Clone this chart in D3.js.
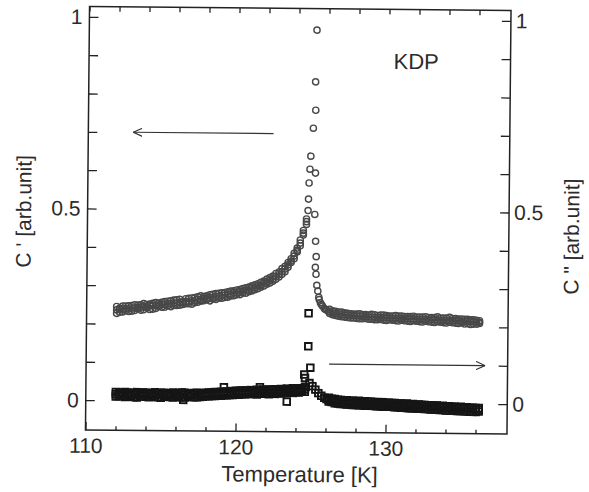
<!DOCTYPE html>
<html>
<head>
<meta charset="utf-8">
<script src="https://cdn.jsdelivr.net/npm/d3@7/dist/d3.min.js"></script>
<style>
  body { margin: 0; background: #fff; }
  svg text { font-family: "Liberation Sans", Arial, Helvetica, sans-serif; fill: #2b2b2b; }
</style>
</head>
<body>
<div id="chartArea"></div>
<script>
// temperature grid below Tc (K)
var tLow = [112.0, 112.2, 112.4, 112.6, 112.8, 113.0, 113.2, 113.4, 113.6, 113.8,
  114.0, 114.2, 114.4, 114.6, 114.8, 115.0, 115.2, 115.4, 115.6, 115.8,
  116.0, 116.2, 116.4, 116.6, 116.8, 117.0, 117.2, 117.4, 117.6, 117.8,
  118.0, 118.2, 118.4, 118.6, 118.8, 119.0, 119.2, 119.4, 119.6, 119.8,
  120.0, 120.2, 120.4, 120.6, 120.8, 121.0, 121.2, 121.4, 121.6, 121.8,
  122.0, 122.2, 122.4, 122.6, 122.8, 123.0, 123.2, 123.4, 123.6, 123.8,
  124.0, 124.2, 124.4, 124.6];

// C' (three sweeps) below Tc
var cp1Low = [.245, .230, .246, .235, .247, .233, .250, .240, .236, .253,
  .242, .252, .239, .256, .246, .244, .259, .248, .261, .249,
  .264, .250, .259, .267, .254, .269, .257, .272, .261, .273,
  .265, .278, .267, .281, .269, .283, .271, .286, .275, .289,
  .279, .292, .283, .297, .287, .302, .292, .308, .299, .315,
  .307, .324, .315, .335, .326, .348, .340, .364, .364, .388,
  .392, .423, .436, .478];
var cp2Low = [.227, .241, .231, .246, .232, .248, .235, .249, .250, .237,
  .251, .238, .254, .241, .255, .257, .244, .260, .246, .263,
  .249, .265, .252, .254, .268, .253, .270, .258, .275, .262,
  .275, .262, .279, .266, .282, .269, .284, .272, .288, .276,
  .291, .279, .295, .283, .299, .289, .305, .295, .312, .302,
  .320, .310, .328, .320, .339, .333, .354, .352, .374, .374,
  .402, .408, .448, .464];
var cp3Low = [.236, .238, .237, .240, .239, .242, .241, .244, .243, .246,
  .245, .248, .247, .250, .249, .252, .251, .254, .253, .256,
  .255, .258, .257, .260, .259, .262, .262, .266, .265, .269,
  .268, .271, .271, .274, .274, .277, .277, .280, .280, .284,
  .284, .287, .288, .291, .292, .296, .298, .302, .305, .309,
  .313, .317, .321, .327, .332, .340, .347, .358, .368, .381,
  .396, .415, .441, .471];

// C'' (three sweeps) below Tc
var cpp1Low = [.022, .011, .020, .009, .021, .010, .019, .008, .020, .011,
  .021, .009, .019, .010, .020, .008, .021, .011, .019, .009,
  .020, .010, .022, .009, .019, .011, .021, .010, .020, .012,
  .022, .013, .023, .014, .024, .015, .025, .016, .026, .017,
  .028, .018, .029, .019, .028, .020, .030, .019, .031, .021,
  .030, .020, .032, .021, .031, .022, .033, .023, .032, .024,
  .034, .025, .035, .027];
var cpp2Low = [.010, .021, .012, .022, .011, .020, .009, .022, .011, .021,
  .010, .020, .011, .022, .009, .021, .011, .020, .010, .022,
  .011, .021, .010, .022, .012, .020, .010, .022, .011, .021,
  .013, .023, .014, .024, .015, .025, .016, .026, .017, .027,
  .018, .028, .019, .029, .020, .030, .021, .031, .022, .032,
  .021, .032, .022, .033, .023, .034, .024, .035, .025, .036,
  .026, .036, .028, .039];
var cpp3Low = [.016, .015, .017, .015, .016, .014, .016, .015, .017, .016,
  .015, .016, .014, .016, .015, .017, .015, .016, .014, .016,
  .016, .015, .017, .016, .015, .017, .016, .015, .017, .016,
  .018, .017, .019, .018, .020, .019, .021, .020, .022, .021,
  .023, .022, .024, .023, .025, .024, .026, .025, .027, .026,
  .026, .025, .027, .026, .028, .027, .029, .028, .030, .029,
  .030, .031, .032, .033];

// temperature grid above Tc (K)
var tHigh = [126.2, 126.4, 126.6, 126.8, 127.0, 127.2, 127.4, 127.6, 127.8, 128.0,
  128.2, 128.4, 128.6, 128.8, 129.0, 129.2, 129.4, 129.6, 129.8, 130.0,
  130.2, 130.4, 130.6, 130.8, 131.0, 131.2, 131.4, 131.6, 131.8, 132.0,
  132.2, 132.4, 132.6, 132.8, 133.0, 133.2, 133.4, 133.6, 133.8, 134.0,
  134.2, 134.4, 134.6, 134.8, 135.0, 135.2, 135.4, 135.6, 135.8, 136.0,
  136.2];

var cp1High = [.243, .229, .238, .225, .236, .223, .233, .221, .231, .220,
  .232, .219, .230, .218, .231, .217, .228, .218, .229, .215,
  .227, .216, .228, .214, .227, .215, .226, .213, .227, .214,
  .225, .212, .226, .213, .224, .211, .226, .212, .223, .210,
  .225, .211, .222, .209, .221, .208, .220, .207, .219, .208,
  .217];
var cp2High = [.232, .239, .227, .236, .224, .234, .222, .232, .221, .231,
  .219, .230, .220, .229, .218, .230, .217, .229, .216, .228,
  .217, .227, .215, .227, .216, .226, .214, .226, .215, .225,
  .213, .225, .214, .224, .212, .224, .213, .223, .211, .223,
  .212, .222, .210, .221, .211, .220, .209, .219, .208, .218,
  .210];
var cp3High = [.236, .234, .232, .231, .229, .229, .228, .227, .227, .226,
  .226, .225, .225, .224, .224, .223, .223, .223, .222, .222,
  .222, .221, .221, .221, .221, .220, .220, .220, .220, .219,
  .219, .219, .219, .218, .218, .218, .218, .217, .217, .217,
  .217, .216, .216, .216, .215, .215, .215, .214, .214, .213,
  .213];

var cpp1High = [.012, .001, .009, -.003, .007, -.004, .006, -.005, .005, -.006,
  .005, -.006, .004, -.007, .003, -.008, .002, -.009, .002, -.010,
  .001, -.010, .000, -.011, -.001, -.012, -.001, -.013, -.002, -.014,
  -.003, -.014, -.004, -.015, -.005, -.016, -.005, -.017, -.006, -.018,
  -.007, -.018, -.008, -.019, -.008, -.020, -.009, -.021, -.010, -.021,
  -.011];
var cpp2High = [.002, .010, -.002, .007, -.004, .006, -.005, .005, -.006, .004,
  -.007, .004, -.008, .003, -.008, .002, -.009, .001, -.010, .000,
  -.010, .000, -.011, -.001, -.012, -.002, -.013, -.003, -.013, -.004,
  -.014, -.004, -.015, -.005, -.016, -.006, -.016, -.007, -.017, -.007,
  -.018, -.008, -.019, -.009, -.019, -.010, -.020, -.011, -.021, -.011,
  -.020];
var cpp3High = [.006, .005, .003, .002, .001, .001, .000, .000, -.001, -.001,
  -.001, -.002, -.002, -.003, -.003, -.003, -.004, -.004, -.004, -.005,
  -.005, -.005, -.006, -.006, -.006, -.007, -.007, -.007, -.008, -.008,
  -.008, -.009, -.009, -.009, -.010, -.010, -.010, -.011, -.011, -.011,
  -.012, -.012, -.012, -.013, -.013, -.013, -.014, -.014, -.014, -.015,
  -.015];

// isolated points around the transition
var tCrit = [124.70, 124.72, 124.75, 124.80, 124.85, 125.00, 125.15, 125.12, 125.18, 125.17,
  125.15, 125.22, 125.27, 125.22, 125.27, 125.33, 125.40, 125.47, 125.50, 125.58,
  125.65, 125.72, 125.85, 125.90, 126.00, 126.10];
var cpCrit = [.500, .530, .572, .608, .642, .715, .762, .836, .971, .598,
  .490, .420, .380, .352, .334, .305, .290, .274, .268, .260,
  .255, .251, .245, .243, .241, .238];

var tCritSq = [124.65, 124.60, 124.55, 124.95, 124.80, 124.80, 124.90, 125.10, 125.30, 125.50,
  125.70, 125.90, 126.05, 119.2, 121.6, 116.5, 123.4];
var cppCrit = [.040, .063, .072, .090, .146, .232, .050, .042, .033, .024,
  .017, .012, .009, .037, .038, .003, .001];

var xMajor = [110, 120, 130];
var xMinor = [112, 114, 116, 118, 122, 124, 126, 128, 132, 134, 136];
var yTicks = [0, 0.1, 0.2, 0.3, 0.4, 0.5, 0.6, 0.7, 0.8, 0.9, 1];
var yLabels = { 0: "0", 0.5: "0.5", 1: "1" };

// arrows: [T, value] pairs, tail -> head
var arrowCp = [[122.35, 0.7], [113.0, 0.7]];
var arrowCpp = [[126.2, 0.1], [136.6, 0.1]];

var margin = { top: 8.5, right: 80, bottom: 60, left: 87.5 },
  width = 421.5,
  height = 423.5;

var x = d3.scaleLinear().domain([110, 138.1]).range([0, width]),
  y = d3.scaleLinear().domain([-0.078, 1.027]).range([height, 0]);

var svg = d3
  .select("#chartArea")
  .append("svg")
  .attr("width", 589)
  .attr("height", 492);

svg
  .append("defs")
  .append("marker")
  .attr("id", "head")
  .attr("viewBox", "0 0 10 10")
  .attr("refX", 10)
  .attr("refY", 5)
  .attr("markerWidth", 9)
  .attr("markerHeight", 9)
  .attr("markerUnits", "userSpaceOnUse")
  .attr("orient", "auto")
  .append("path")
  .attr("d", "M0,0.5L10,5L0,9.5")
  .attr("fill", "none")
  .attr("stroke", "#333")
  .attr("stroke-width", 1.3);

// scanned page is slightly tilted
var page = svg.append("g").attr("transform", "rotate(0.55,298,220)");

var focus = page
  .append("g")
  .attr("transform", "translate(" + margin.left + "," + margin.top + ")");

function points(ts, vs) {
  return ts.map(function (t, i) {
    return [t, vs[i]];
  });
}

var circleData = points(tLow, cp1Low)
  .concat(points(tLow, cp2Low))
  .concat(points(tLow, cp3Low))
  .concat(points(tHigh, cp1High))
  .concat(points(tHigh, cp2High))
  .concat(points(tHigh, cp3High))
  .concat(points(tCrit, cpCrit));

var squareData = points(tLow, cpp1Low)
  .concat(points(tLow, cpp2Low))
  .concat(points(tLow, cpp3Low))
  .concat(points(tHigh, cpp1High))
  .concat(points(tHigh, cpp2High))
  .concat(points(tHigh, cpp3High))
  .concat(points(tCritSq, cppCrit));

focus
  .append("g")
  .selectAll("rect")
  .data(squareData)
  .enter()
  .append("rect")
  .attr("x", function (d) { return x(d[0]) - 3.3; })
  .attr("y", function (d) { return y(d[1]) - 3.3; })
  .attr("width", 6.6)
  .attr("height", 6.6)
  .attr("fill", "none")
  .attr("stroke", "#151515")
  .attr("stroke-width", 1.9);

focus
  .append("g")
  .selectAll("circle")
  .data(circleData)
  .enter()
  .append("circle")
  .attr("cx", function (d) { return x(d[0]); })
  .attr("cy", function (d) { return y(d[1]); })
  .attr("r", 3.1)
  .attr("fill", "none")
  .attr("stroke", "#484848")
  .attr("stroke-width", 1.4);

var arrowLine = d3
  .line()
  .x(function (d) { return x(d[0]); })
  .y(function (d) { return y(d[1]); });

[arrowCp, arrowCpp].forEach(function (a) {
  focus
    .append("path")
    .attr("d", arrowLine(a))
    .attr("fill", "none")
    .attr("stroke", "#333")
    .attr("stroke-width", 1.2)
    .attr("marker-end", "url(#head)");
});

// axes, all ticks pointing inward
function styleAxis(g, size) {
  g.select(".domain").remove();
  g.selectAll("line").attr("stroke", "#222").attr("stroke-width", 1.3);
  g.selectAll("text")
    .attr("font-size", size)
    .attr("font-family", '"Liberation Sans", Arial, sans-serif')
    .attr("fill", "#2b2b2b");
}

focus
  .append("g")
  .attr("transform", "translate(0," + height + ")")
  .call(d3.axisBottom(x).tickValues(xMajor).tickSize(-8).tickPadding(8).tickFormat(d3.format("d")))
  .call(styleAxis, 21);

focus
  .append("g")
  .attr("transform", "translate(0," + height + ")")
  .call(d3.axisBottom(x).tickValues(xMinor).tickSize(-4).tickFormat(""))
  .call(styleAxis, 21);

focus
  .append("g")
  .call(d3.axisTop(x).tickValues(xMajor.concat(xMinor)).tickSize(-5).tickFormat(""))
  .call(styleAxis, 21);

focus
  .append("g")
  .call(
    d3.axisLeft(y).tickValues(yTicks).tickSize(-9).tickPadding(7)
      .tickFormat(function (d) { return yLabels[d] || ""; })
  )
  .call(styleAxis, 21);

focus
  .append("g")
  .attr("transform", "translate(" + width + ",0)")
  .call(
    d3.axisRight(y).tickValues(yTicks).tickSize(-9).tickPadding(5)
      .tickFormat(function (d) { return yLabels[d] || ""; })
  )
  .call(styleAxis, 21);

focus
  .append("rect")
  .attr("width", width)
  .attr("height", height)
  .attr("fill", "none")
  .attr("stroke", "#222")
  .attr("stroke-width", 1.5);

focus
  .append("text")
  .attr("x", 304.5)
  .attr("y", 59.5)
  .attr("font-size", 22)
  .text("KDP");

page
  .append("text")
  .attr("x", 302)
  .attr("y", 482)
  .attr("text-anchor", "middle")
  .attr("font-size", 22)
  .text("Temperature [K]");

page
  .append("text")
  .attr("transform", "translate(31,214) rotate(-90)")
  .attr("text-anchor", "middle")
  .attr("font-size", 21)
  .text("C ' [arb.unit]");

page
  .append("text")
  .attr("transform", "translate(579,234) rotate(-90)")
  .attr("text-anchor", "middle")
  .attr("font-size", 21)
  .text('C " [arb.unit]');
</script>
</body>
</html>
